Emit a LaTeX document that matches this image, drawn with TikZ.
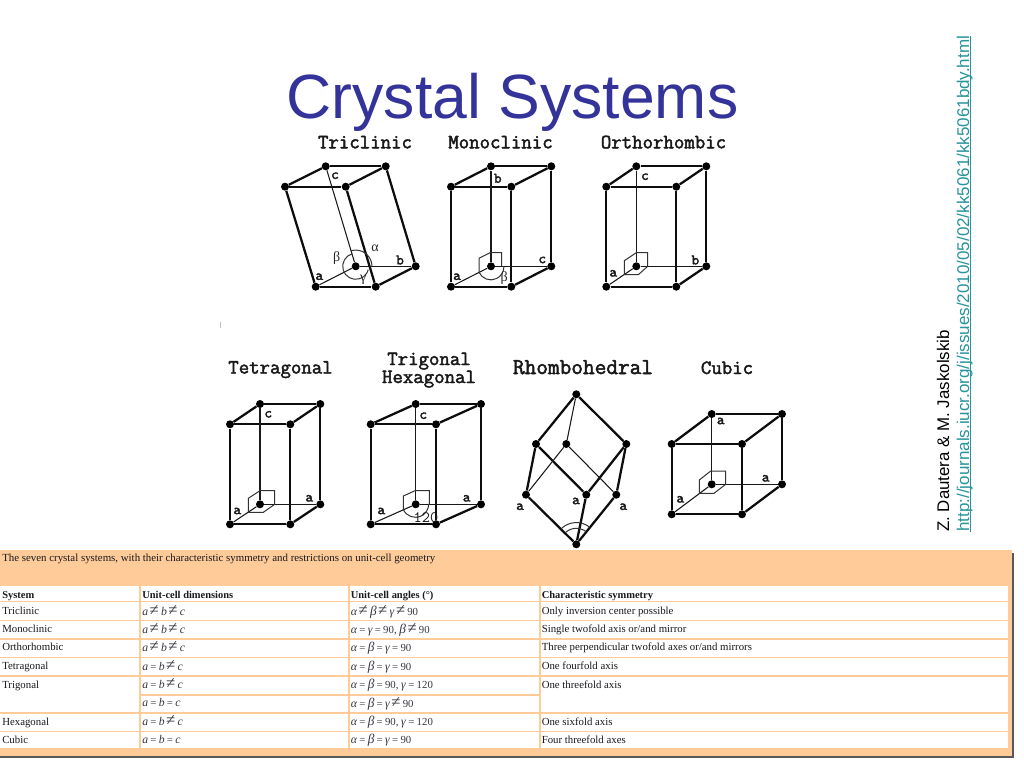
\documentclass[tikz,border=0pt]{standalone}
\usepackage{fontspec}
\setmainfont{Liberation Serif}
\newfontfamily\sansf{Liberation Sans}
\newfontfamily\courb[FakeBold=2.2]{Latin Modern Mono}
\definecolor{titleblue}{RGB}{51,51,153}
\definecolor{linkteal}{RGB}{40,148,155}
\definecolor{tablepeach}{RGB}{255,204,153}
\definecolor{inkgrey}{RGB}{25,25,30}
\definecolor{mathgrey}{RGB}{55,55,65}
\newcommand{\linkline}[1]{\setbox0\hbox{#1}\rlap{\rule[-1.6pt]{\wd0}{0.7pt}}\box0}
\newcommand{\nq}{\hspace{1.2pt}{\fontsize{12.5}{10}\selectfont ≠}\hspace{1.6pt}}
\newcommand{\eqq}{\hspace{1.7pt}=\hspace{1.7pt}}
\newcommand{\mA}{{\fontsize{8.8}{9}\selectfont\textit{a}}}
\newcommand{\mB}{{\fontsize{8.8}{9}\selectfont\textit{b}}}
\newcommand{\mC}{{\fontsize{8.8}{9}\selectfont\textit{c}}}
\newcommand{\gA}{{\fontsize{8.8}{9}\selectfont\textit{α}}}
\newcommand{\gB}{{\fontsize{10}{9}\selectfont\textit{β}}}
\newcommand{\gC}{{\fontsize{8.8}{9}\selectfont\textit{γ}}}
\tikzset{
  x=0.75pt,y=-0.75pt,
  atom/.style={circle,fill=black,inner sep=0pt,minimum size=6pt},
  thickedge/.style={line width=1.7pt,black!95},
  thinedge/.style={line width=0.8pt,black!90},
  mark line/.style={line width=0.75pt,black!80},
  heading/.style={anchor=base,font=\courb\fontsize{15.2}{16}\selectfont,text=black!90,inner sep=0pt},
  axislabel/.style={font=\courb\fontsize{11}{11}\selectfont,text=black!90,inner sep=0pt},
  anglelabel/.style={font=\fontsize{10.5}{10}\selectfont,text=black!85,inner sep=0pt},
  cell/.style={anchor=base west,inner sep=0pt,font=\fontsize{8.1}{9}\selectfont,text=inkgrey},
  headcell/.style={cell,font=\bfseries\fontsize{7.85}{9}\selectfont},
  mathcell/.style={cell,text=mathgrey},
}
% #1 prefix; #2 back-top-left #3 back-top-right #4 front-top-left #5 front-top-right
% #6 front-bottom-left #7 front-bottom-right #8 back-bottom-right #9 centre
\newcommand{\unitcell}[9]{
  \node[atom] (#1tbl) at (#2) {};
  \node[atom] (#1tbr) at (#3) {};
  \node[atom] (#1tfl) at (#4) {};
  \node[atom] (#1tfr) at (#5) {};
  \node[atom] (#1bfl) at (#6) {};
  \node[atom] (#1bfr) at (#7) {};
  \node[atom] (#1bbr) at (#8) {};
  \node[atom] (#1c) at (#9) {};
  \draw[thickedge] (#1tbl)--(#1tbr);
  \draw[thickedge] (#1tbl)--(#1tfl);
  \draw[thickedge] (#1tbr)--(#1tfr);
  \draw[thickedge] (#1tfl)--(#1tfr);
  \draw[thickedge] (#1tfl)--(#1bfl);
  \draw[thickedge] (#1tfr)--(#1bfr);
  \draw[thickedge] (#1tbr)--(#1bbr);
  \draw[thickedge] (#1bfl)--(#1bfr);
  \draw[thickedge] (#1bfr)--(#1bbr);
  \draw[thinedge] (#1c)--(#1tbl);
  \draw[thinedge] (#1c)--(#1bfl);
  \draw[thinedge] (#1c)--(#1bbr);
}
\begin{document}
\begin{tikzpicture}
\useasboundingbox (0,0) rectangle (1024,768);
\fill[white] (0,0) rectangle (1024,768);

% title and side notes
\node[anchor=base,inner sep=0pt,font=\sansf\fontsize{46.9}{50}\selectfont,text=titleblue] (title) at (512.5,118) {Crystal Systems};
\node[rotate=90,anchor=base west,inner sep=0pt,font=\sansf\fontsize{12.65}{14}\selectfont,text=black] (author) at (949,532) {Z. Dautera \& M. Jaskolskib};
\node[rotate=90,anchor=base west,inner sep=0pt,font=\sansf\fontsize{12.75}{14}\selectfont,text=linkteal] (link) at (969,532) {\linkline{http://journals.iucr.org/j/issues/2010/05/02/kk5061/kk5061bdy.html}};

% table
\fill[black!65] (0,553) rectangle (1014,758);
\fill[tablepeach] (0,550) rectangle (1012,756);
\foreach \ya/\yb in {586/601,602.3/620,621.3/638,639.7/657,658.3/675,714/731,732.3/748.3}{
  \fill[white] (0,\ya) rectangle (139,\yb);
  \fill[white] (141,\ya) rectangle (347.5,\yb);
  \fill[white] (349.5,\ya) rectangle (539,\yb);
  \fill[white] (541,\ya) rectangle (1008,\yb);
}
\foreach \ya/\yb in {676.7/694,695.7/712.3}{
  \fill[white] (141,\ya) rectangle (347.5,\yb);
  \fill[white] (349.5,\ya) rectangle (539,\yb);
}
\fill[white] (0,676.7) rectangle (139,712.3);
\fill[white] (541,676.7) rectangle (1008,712.3);

\node[cell,font=\fontsize{8.15}{9}\selectfont] (caption) at (2,561) {The seven crystal systems, with their characteristic symmetry and restrictions on unit-cell geometry};
\node[headcell] (h1) at (2,598) {System};
\node[headcell] (h2) at (142,598) {Unit-cell dimensions};
\node[headcell] (h3) at (350.5,598) {Unit-cell angles (°)};
\node[headcell] (h4) at (541.5,598) {Characteristic symmetry};

\node[cell] (r1a) at (2,614) {Triclinic};
\node[mathcell] (r1b) at (142,615) {\mA\nq\mB\nq\mC};
\node[mathcell] (r1c) at (350.5,615) {\gA\nq\gB\nq\gC\nq 90};
\node[cell] (r1d) at (541.5,614) {Only inversion center possible};

\node[cell] (r2a) at (2,632) {Monoclinic};
\node[mathcell] (r2b) at (142,633.5) {\mA\nq\mB\nq\mC};
\node[mathcell] (r2c) at (350.5,633.5) {\gA\eqq\gC\eqq 90, \gB\nq 90};
\node[cell] (r2d) at (541.5,632) {Single twofold axis or/and mirror};

\node[cell] (r3a) at (2,650.5) {Orthorhombic};
\node[mathcell] (r3b) at (142,651.5) {\mA\nq\mB\nq\mC};
\node[mathcell] (r3c) at (350.5,651.5) {\gA\eqq\gB\eqq\gC\eqq 90};
\node[cell] (r3d) at (541.5,650.5) {Three perpendicular twofold axes or/and mirrors};

\node[cell] (r4a) at (2,669) {Tetragonal};
\node[mathcell] (r4b) at (142,670.5) {\mA\eqq\mB\nq\mC};
\node[mathcell] (r4c) at (350.5,670.5) {\gA\eqq\gB\eqq\gC\eqq 90};
\node[cell] (r4d) at (541.5,669) {One fourfold axis};

\node[cell] (r5a) at (2,688) {Trigonal};
\node[mathcell] (r5b) at (142,688.5) {\mA\eqq\mB\nq\mC};
\node[mathcell] (r5c) at (350.5,688.5) {\gA\eqq\gB\eqq 90, \gC\eqq 120};
\node[cell] (r5d) at (541.5,688) {One threefold axis};
\node[mathcell] (r6b) at (142,706.5) {\mA\eqq\mB\eqq\mC};
\node[mathcell] (r6c) at (350.5,707.5) {\gA\eqq\gB\eqq\gC\nq 90};

\node[cell] (r7a) at (2,725) {Hexagonal};
\node[mathcell] (r7b) at (142,725.5) {\mA\eqq\mB\nq\mC};
\node[mathcell] (r7c) at (350.5,725.5) {\gA\eqq\gB\eqq 90, \gC\eqq 120};
\node[cell] (r7d) at (541.5,725) {One sixfold axis};

\node[cell] (r8a) at (2,743) {Cubic};
\node[mathcell] (r8b) at (142,743.5) {\mA\eqq\mB\eqq\mC};
\node[mathcell] (r8c) at (350.5,743.5) {\gA\eqq\gB\eqq\gC\eqq 90};
\node[cell] (r8d) at (541.5,743) {Four threefold axes};

% headings
\node[heading] (hTri) at (365,148.3) {Triclinic};
\node[heading] (hMon) at (500.5,148.3) {Monoclinic};
\node[heading] (hOrt) at (663.5,148.3) {Orthorhombic};
\node[heading] (hTet) at (280.5,373.5) {Tetragonal};
\node[heading] (hTrg) at (429,365) {Trigonal};
\node[heading] (hHex) at (429,383) {Hexagonal};
\node[heading,font=\courb\fontsize{17}{18}\selectfont] (hRho) at (583,374) {Rhombohedral};
\node[heading] (hCub) at (727,374) {Cubic};

% triclinic
\unitcell{tri}{325.7,166.3}{385.7,166.3}{285,186.7}{345.7,186.7}{315.7,286.7}{375.7,286.7}{415.7,266.3}{355.7,266.3}
\draw[mark line] ([shift={(105:9.75pt)}]tric.center) arc[start angle=105,end angle=345,radius=9.75pt];
\draw[mark line] ([shift={(108:12.2pt)}]tric.center) arc[start angle=108,end angle=0,radius=12.2pt];
\node[axislabel] (tl1) at (335,175.7) {c};
\node[axislabel] (tl2) at (319.3,276.7) {a};
\node[axislabel] (tl3) at (400,260) {b};
\node[anglelabel] (tl4) at (336.7,258.3) {β};
\node[anglelabel] (tl5) at (375,248.3) {α};
\node[anglelabel] (tl6) at (363.3,279.3) {γ};

% monoclinic
\unitcell{mon}{491,166.3}{551.3,166.3}{451,186.7}{511.3,186.7}{451,286.7}{511.3,286.7}{551.3,266.3}{491,266.3}
\coordinate (m1) at (479,272.3);
\coordinate (m2) at (479,258.3);
\coordinate (m3) at (490,252.7);
\coordinate (m4) at (501.7,252.7);
\coordinate (m5) at (501.7,266.3);
\draw[mark line] (m1)--(m2)--(m3)--(m4)--(m5);
\draw[mark line] (m1) arc[start angle=205,end angle=360,radius=9.8pt];
\node[axislabel] (ml1) at (497.7,178.3) {b};
\node[axislabel] (ml2) at (457,276.7) {a};
\node[axislabel] (ml3) at (542.3,260) {c};
\node[anglelabel] (ml4) at (504.3,278.3) {β};

% orthorhombic
\unitcell{ort}{636.3,166.3}{706.3,166.3}{606.3,186.7}{676.3,186.7}{606.3,286.7}{676.3,286.7}{706.3,266.3}{636.3,266.3}
\draw[mark line] (624.3,260.7)--(636.3,252.7)--(647.7,252.7)--(647.7,266.3)--(638.3,274.7)--(624.3,274.7)--cycle;
\node[axislabel] (ol1) at (645,176.7) {c};
\node[axislabel] (ol2) at (613.3,273.3) {a};
\node[axislabel] (ol3) at (695.3,260) {b};

% tetragonal
\unitcell{tet}{260,404}{320.3,404}{230,424.3}{290.3,424.3}{230,524.3}{290.3,524.3}{320.3,504.3}{260,504.3}
\draw[mark line] (248.3,498.3)--(260,490.7)--(274.7,490.7)--(274.7,504.3)--(263.3,512.3)--(248.3,512.3)--cycle;
\node[axislabel] (tel1) at (268.3,414.3) {c};
\node[axislabel] (tel2) at (237.3,511) {a};
\node[axislabel] (tel3) at (309.3,498.3) {a};

% trigonal / hexagonal
\unitcell{hex}{415.7,404}{481,404}{370.7,424.3}{436,424.3}{370.7,524.3}{436,524.3}{481,504.3}{415.7,504.3}
\coordinate (h1p) at (403.3,509.6);
\draw[mark line] (h1p)--(403.3,496)--(415,490.7)--(429.3,490.7)--(429.3,504.3);
\draw[mark line] (h1p) arc[start angle=205,end angle=360,radius=10pt];
\node[axislabel] (hl1) at (423.3,415.7) {c};
\node[axislabel] (hl2) at (381.3,511) {a};
\node[axislabel] (hl3) at (466.7,498.3) {a};
\node[axislabel,font=\ttfamily\fontsize{11.9}{12}\selectfont] (hl4) at (426,517.3) {120};

% rhombohedral
\node[atom] (rTop) at (576.3,394.3) {};
\node[atom] (rL) at (536,444) {};
\node[atom] (rM) at (566.3,444) {};
\node[atom] (rR) at (626.3,444) {};
\node[atom] (rLa) at (526,494.7) {};
\node[atom] (rMa) at (586.3,494.7) {};
\node[atom] (rRa) at (616.3,494.7) {};
\node[atom] (rBot) at (576.3,544.3) {};
\draw[thickedge] (rTop)--(rL);
\draw[thickedge] (rTop)--(rR);
\draw[thickedge] (rL)--(rMa);
\draw[thickedge] (rR)--(rMa);
\draw[thickedge] (rL)--(rLa);
\draw[thickedge] (rR)--(rRa);
\draw[thickedge] (rLa)--(rBot);
\draw[thickedge] (rMa)--(rBot);
\draw[thickedge] (rRa)--(rBot);
\draw[thinedge] (rTop)--(rM);
\draw[thinedge] (rM)--(rLa);
\draw[thinedge] (rM)--(rRa);
\draw[mark line] ([shift={(52:16.3pt)}]rBot.center) arc[start angle=52,end angle=134,radius=16.3pt];
\draw[mark line] ([shift={(52:12pt)}]rBot.center) arc[start angle=52,end angle=134,radius=12pt];
\node[axislabel] (rl1) at (520,506.7) {a};
\node[axislabel] (rl2) at (576,501) {a};
\node[axislabel] (rl3) at (623.3,506.7) {a};

% cubic
\unitcell{cub}{711.7,414}{782,414}{671.7,444}{742,444}{671.7,514.3}{742,514.3}{782,484.3}{711.7,484.3}
\draw[mark line] (699.3,480)--(710.7,471)--(725.7,471)--(725.7,484.3)--(714,493.3)--(699.3,493.3)--cycle;
\node[axislabel] (cl1) at (720.7,421) {a};
\node[axislabel] (cl2) at (765.7,478.3) {a};
\node[axislabel] (cl3) at (680.3,499.3) {a};

% faint tick in the reference
\draw[black!25,line width=0.5pt] (220,322)--(220,328);
\end{tikzpicture}
\end{document}
